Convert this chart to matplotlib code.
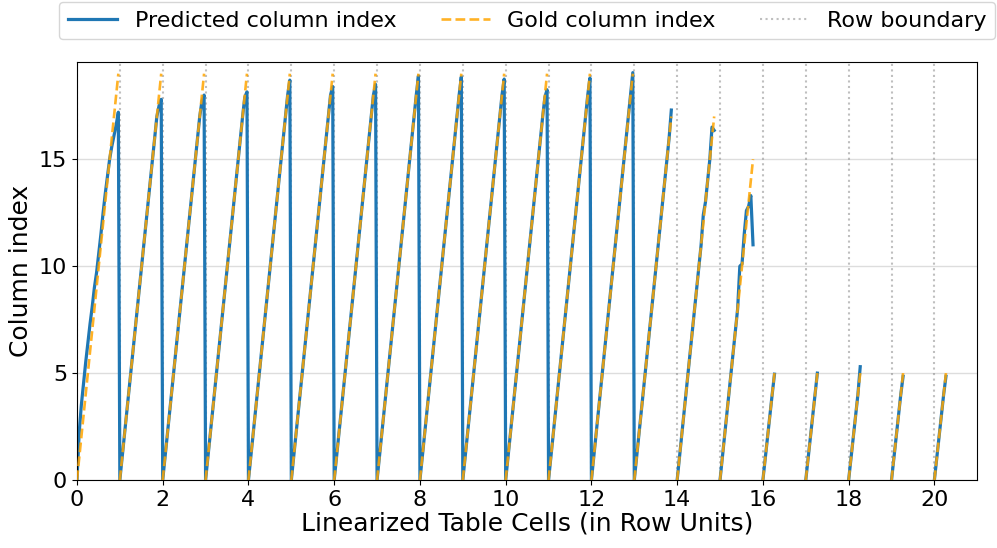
import numpy as np
import matplotlib
matplotlib.use("Agg")
import matplotlib.pyplot as plt

# number of cells (gold column indices 0..n-1) in each table row
row_cells = [20, 20, 20, 20, 20, 20, 20, 20, 20, 20, 20, 20, 20,
             18, 18, 16, 6, 6, 6, 6, 6]
# spacing of one cell inside a row, in row units
row_step = [0.0508] * 15 + [0.0513] + [0.054] * 5

# predicted column index for row 0 (drifts ahead of gold, ends low)
pred_row0 = [0, 2.2, 3.5, 4.5, 5.5, 6.4, 7.3, 8.1, 9.0, 9.7, 10.6,
             11.5, 12.5, 13.4, 14.2, 15.0, 15.6, 16.1, 16.6, 17.2]
# predicted value of the last cell for later rows
pred_last = {1: 17.8, 2: 18.0, 3: 18.15, 4: 18.7, 5: 18.4, 6: 18.5,
             7: 18.9, 8: 18.85, 9: 18.75, 10: 18.25, 11: 18.8, 12: 19.05,
             13: 17.3, 16: 4.95, 18: 5.3, 19: 4.85, 20: 4.85}
# other cells where prediction differs from gold: (row, cell) -> value
pred_other = {(1, 18): 17.5, (2, 18): 17.7, (3, 18): 17.9, (10, 18): 17.9,
              (14, 12): 12.4, (14, 16): 16.5, (14, 17): 16.35,
              (15, 9): 10.0, (15, 10): 10.1, (15, 11): 11.5,
              (15, 12): 12.6, (15, 13): 12.8, (15, 14): 13.3, (15, 15): 11.0}
# rows 0..13 are predicted as one continuous sequence
n_connected = 14
boundaries = list(range(0, 21))

gold_x, gold_y, pred_y = [], [], []
for r, n in enumerate(row_cells):
    xs = r + np.arange(n) * row_step[r]
    g = np.arange(n, dtype=float)
    p = g.copy()
    if r == 0:
        p = np.array(pred_row0, dtype=float)
    for (rr, j), v in pred_other.items():
        if rr == r:
            p[j] = v
    if r in pred_last:
        p[-1] = pred_last[r]
    gold_x.append(xs)
    gold_y.append(g)
    pred_y.append(p)

fig = plt.figure(figsize=(9.97, 5.48), dpi=100)
ax = fig.add_axes([0.0772, 0.124, 0.903, 0.763])

blue = "#1f77b4"
orange = "orange"

# predicted
ax.plot(np.concatenate(gold_x[:n_connected]), np.concatenate(pred_y[:n_connected]),
        color=blue, lw=2.3, label="Predicted column index", zorder=2)
for r in range(n_connected, len(row_cells)):
    ax.plot(gold_x[r], pred_y[r], color=blue, lw=2.3, zorder=2)

# gold
for r in range(len(row_cells)):
    ax.plot(gold_x[r], gold_y[r], color=orange, lw=1.9, ls="--", alpha=0.85,
            label="Gold column index" if r == 0 else None, zorder=3)

for i, b in enumerate(boundaries):
    ax.axvline(b, color="gray", ls=":", lw=1.5, alpha=0.5,
               label="Row boundary" if i == 0 else None, zorder=1)

ax.set_xlim(0, 21)
ax.set_ylim(0, 19.55)
ax.set_xticks(range(0, 21, 2))
ax.set_yticks([0, 5, 10, 15])
ax.yaxis.grid(True, color="#dddddd", lw=1)
ax.set_axisbelow(True)
ax.tick_params(labelsize=16)
ax.set_xlabel("Linearized Table Cells (in Row Units)", fontsize=18, labelpad=1)
ax.set_ylabel("Column index", fontsize=18, labelpad=4)

ax.legend(loc="upper center", bbox_to_anchor=(0.5, 1.16), ncol=3,
          fontsize=16, handlelength=2.2, columnspacing=2.0,
          borderaxespad=0.3)

fig.savefig("out.png", dpi=100)
